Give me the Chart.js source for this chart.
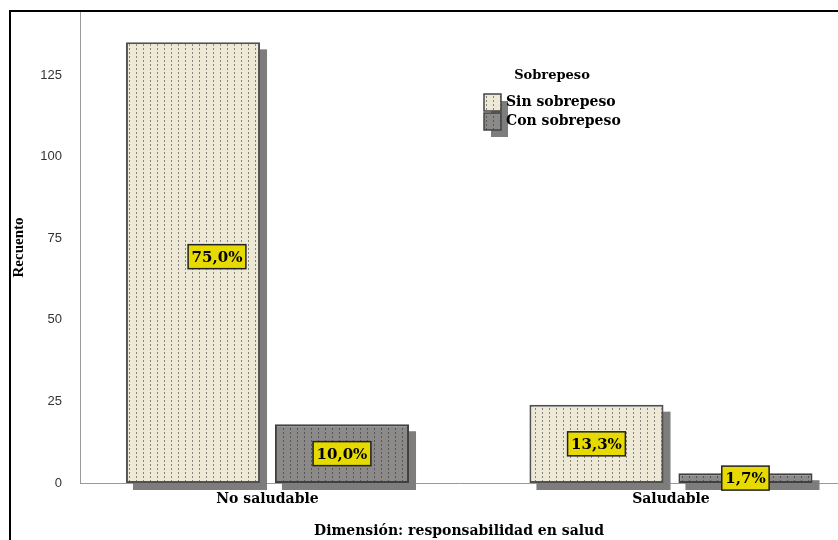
<!DOCTYPE html>
<html>
<head>
<meta charset="utf-8">
<script src="https://cdn.jsdelivr.net/npm/chart.js@4.4.1/dist/chart.umd.min.js"></script>
<style>
  html, body { margin: 0; padding: 0; background: #fff; }
  #wrap { width: 838px; height: 540px; }
</style>
</head>
<body>
<div id="wrap"><canvas id="barChart" width="838" height="540"></canvas></div>
<script>
// recuento por categoria
var categories = ["No saludable", "Saludable"];
var seriesNames = ["Sin sobrepeso", "Con sobrepeso"];
var sinSobrepeso = [135, 24];
var conSobrepeso = [18, 3];
var yTicks = [0, 25, 50, 75, 100, 125];

var total = 0;
sinSobrepeso.concat(conSobrepeso).forEach(function(v){ total += v; });

// relleno punteado tipo SPSS
function dotPattern(bg, dot){
  var c = document.createElement("canvas");
  c.width = 7; c.height = 4;
  var g = c.getContext("2d");
  g.fillStyle = bg;
  g.fillRect(0, 0, 7, 4);
  g.fillStyle = dot;
  g.fillRect(3, 0, 1, 2);
  return g.createPattern(c, "repeat");
}
var creamFill = dotPattern("#eee8d6", "#86827a");
var grayFill = dotPattern("#8c8989", "#575555");
var swatchFills = [creamFill, grayFill];

function points(arr){
  return arr.map(function(v, i){ return {x: i, y: v}; });
}

// marco exterior
var framePlugin = {
  id: "frame",
  beforeDraw: function(chart){
    var ctx = chart.ctx;
    ctx.save();
    ctx.strokeStyle = "#000";
    ctx.lineWidth = 2;
    ctx.beginPath();
    ctx.moveTo(10, 540);
    ctx.lineTo(10, 11);
    ctx.lineTo(838, 11);
    ctx.stroke();
    ctx.restore();
  }
};

// sombras de las barras
var shadowPlugin = {
  id: "barShadow",
  beforeDatasetsDraw: function(chart){
    var ctx = chart.ctx;
    ctx.save();
    ctx.fillStyle = "#7d7d7d";
    chart.data.datasets.forEach(function(ds, di){
      chart.getDatasetMeta(di).data.forEach(function(bar){
        var p = bar.getProps(["x", "y", "base", "width"], true);
        ctx.fillRect(p.x - p.width / 2 + 7, p.y + 7, p.width, p.base - p.y);
      });
    });
    ctx.restore();
  }
};

// etiquetas de porcentaje (desplazamiento [dx, dy] opcional por barra)
var pctPlugin = {
  id: "pctLabels",
  afterDatasetsDraw: function(chart, args, opts){
    var ctx = chart.ctx;
    ctx.save();
    ctx.font = "bold 15px 'DejaVu Serif'";
    ctx.textAlign = "center";
    ctx.textBaseline = "middle";
    chart.data.datasets.forEach(function(ds, di){
      chart.getDatasetMeta(di).data.forEach(function(bar, i){
        var p = bar.getProps(["x", "y", "base"], true);
        var v = ds.data[i].y;
        var txt = (v / total * 100).toFixed(1).replace(".", ",") + "%";
        var shift = (opts.shift[di] && opts.shift[di][i]) || [0, 0];
        var cx = p.x + shift[0];
        var cy = (p.y + p.base) / 2 + shift[1];
        var w = ctx.measureText(txt).width + 7;
        var h = 24;
        ctx.fillStyle = "#e6da00";
        ctx.fillRect(cx - w / 2, cy - h / 2, w, h);
        ctx.strokeStyle = "#222";
        ctx.lineWidth = 1.5;
        ctx.strokeRect(cx - w / 2, cy - h / 2, w, h);
        ctx.fillStyle = "#000";
        ctx.fillText(txt, cx, cy + 1);
      });
    });
    ctx.restore();
  }
};

// leyenda
var legendPlugin = {
  id: "sobrepesoLegend",
  afterDraw: function(chart){
    var ctx = chart.ctx;
    ctx.save();
    ctx.font = "bold 13px 'DejaVu Serif'";
    ctx.fillStyle = "#000";
    ctx.textAlign = "center";
    ctx.textBaseline = "middle";
    ctx.fillText("Sobrepeso", 552, 76);
    ctx.font = "bold 14px 'DejaVu Serif'";
    var x0 = 484, y0 = 94, s = 17, step = 19;
    ctx.fillStyle = "#7d7d7d";
    ctx.fillRect(x0 + 7, y0 + 7, s, step + s);
    seriesNames.forEach(function(name, i){
      var y = y0 + i * step;
      ctx.fillStyle = swatchFills[i];
      ctx.fillRect(x0, y, s, s);
      ctx.strokeStyle = "#444";
      ctx.lineWidth = 1.5;
      ctx.strokeRect(x0, y, s, s);
      ctx.fillStyle = "#000";
      ctx.textAlign = "left";
      ctx.fillText(name, x0 + 22, y + s / 2);
    });
    ctx.restore();
  }
};

var ctxB = document.getElementById("barChart").getContext("2d");
var myBarChart = new Chart(ctxB, {
  type: "bar",
  data: {
    datasets: [{
      label: seriesNames[0],
      data: points(sinSobrepeso),
      backgroundColor: creamFill,
      borderColor: "#505050",
      borderWidth: 2,
      borderSkipped: false,
      categoryPercentage: 0.7385,
      barPercentage: 0.9
    }, {
      label: seriesNames[1],
      data: points(conSobrepeso),
      backgroundColor: grayFill,
      borderColor: "#404040",
      borderWidth: 2,
      borderSkipped: false,
      categoryPercentage: 0.7385,
      barPercentage: 0.9
    }]
  },
  options: {
    responsive: false,
    animation: false,
    layout: { padding: { left: 10, top: 12, right: 0, bottom: 0 } },
    plugins: {
      legend: { display: false },
      tooltip: { enabled: false },
      pctLabels: { shift: [[[24, -6], [0, 0]], [[0, 0], [0, 0]]] }
    },
    scales: {
      x: {
        type: "linear",
        offset: false,
        min: -0.4647,
        max: 1.414,
        afterBuildTicks: function(scale){
          scale.ticks = categories.map(function(c, i){ return {value: i}; });
        },
        afterFit: function(scale){
          scale.height = 57;
          scale.paddingLeft = 0;
          scale.paddingRight = 0;
        },
        grid: { display: false },
        border: { display: true, color: "#999", width: 1 },
        ticks: {
          autoSkip: false,
          maxRotation: 0,
          padding: 0,
          color: "#000",
          font: { family: "DejaVu Serif", size: 14, weight: "bold" },
          callback: function(v){ return categories[v]; }
        },
        title: {
          display: true,
          text: "Dimensión: responsabilidad en salud",
          color: "#000",
          padding: 0,
          font: { family: "DejaVu Serif", size: 14, weight: "bold" }
        }
      },
      y: {
        min: 0,
        max: 144.3,
        afterBuildTicks: function(scale){
          scale.ticks = yTicks.map(function(v){ return {value: v}; });
        },
        afterFit: function(scale){
          scale.width = 70;
          scale.paddingTop = 0;
          scale.paddingBottom = 0;
        },
        grid: { display: false },
        border: { display: true, color: "#999", width: 1 },
        ticks: {
          padding: 10,
          color: "#333",
          font: { family: "Liberation Sans", size: 13 }
        },
        title: {
          display: true,
          text: "Recuento",
          color: "#000",
          padding: 0,
          font: { family: "Liberation Serif", size: 15, weight: "bold" }
        }
      }
    }
  },
  plugins: [framePlugin, shadowPlugin, pctPlugin, legendPlugin]
});
</script>
</body>
</html>
